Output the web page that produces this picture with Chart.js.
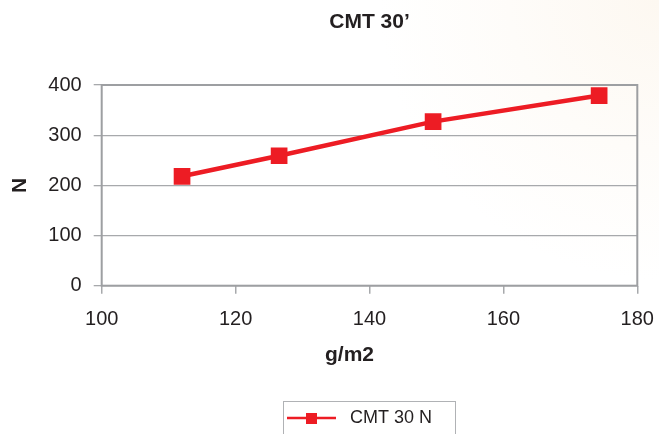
<!DOCTYPE html>
<html>
<head>
<meta charset="utf-8">
<script src="https://cdn.jsdelivr.net/npm/chart.js@4"></script>
<style>
  html, body {
    margin: 0;
    padding: 0;
    width: 659px;
    height: 434px;
    overflow: hidden;
    background: radial-gradient(circle at 100% 0%, #fdf8f1 0px, #fefcf9 150px, #ffffff 280px);
  }
  canvas { display: block; }
</style>
</head>
<body>
<canvas class="grafico" width="659" height="434"></canvas>
<script>
const canvas = document.querySelector('.grafico');

// valores
const gramaje = [112, 126.5, 149.5, 174.3];
const cmt30 = [218, 259, 327, 379];
const xTicks = [100, 120, 140, 160, 180];
const yTicks = [0, 100, 200, 300, 400];

const rojo = '#ed1c24';
const gris = '#a7a9ac';
const texto = '#231f20';
const fuente = '"Liberation Sans", Arial, Helvetica, sans-serif';

// marco del area de trazado + titulo del eje x
const marco = {
    id: 'marco',
    beforeDatasetsDraw(chart) {
        const { ctx, chartArea: a } = chart;
        ctx.save();
        ctx.strokeStyle = '#9d9fa2';
        ctx.lineWidth = 2;
        ctx.strokeRect(a.left, a.top, a.right - a.left, a.bottom - a.top);
        ctx.restore();
    },
    afterDraw(chart) {
        const { ctx, chartArea: a } = chart;
        ctx.save();
        ctx.fillStyle = texto;
        ctx.font = 'bold 21px ' + fuente;
        ctx.textAlign = 'center';
        ctx.textBaseline = 'middle';
        ctx.fillText('g/m2', (a.left + a.right) / 2 - 20, 355);
        ctx.restore();
    }
};

// leyenda con recuadro
const leyenda = {
    id: 'leyenda',
    afterDraw(chart) {
        const { ctx } = chart;
        const ds = chart.data.datasets[0];
        ctx.save();
        ctx.strokeStyle = '#b0b2b5';
        ctx.lineWidth = 1;
        ctx.strokeRect(283.5, 401.5, 172, 40);
        ctx.strokeStyle = ds.borderColor;
        ctx.lineWidth = 2.5;
        ctx.beginPath();
        ctx.moveTo(287, 418);
        ctx.lineTo(336, 418);
        ctx.stroke();
        ctx.fillStyle = ds.borderColor;
        ctx.fillRect(306, 413, 11, 11);
        ctx.fillStyle = texto;
        ctx.font = '18px ' + fuente;
        ctx.textAlign = 'left';
        ctx.textBaseline = 'middle';
        ctx.fillText(ds.label, 350, 418);
        ctx.restore();
    }
};

const config = {
    type: 'line',
    data: {
        datasets: [{
            label: 'CMT 30 N',
            data: gramaje.map((g, i) => ({ x: g, y: cmt30[i] })),
            borderColor: rojo,
            backgroundColor: rojo,
            borderWidth: 4.5,
            tension: 0,
            pointStyle: 'rect',
            pointRadius: 11.8,
            pointHoverRadius: 11.8,
            pointBorderWidth: 0,
            pointBackgroundColor: rojo
        }]
    },
    options: {
        responsive: false,
        animation: false,
        events: [],
        layout: { padding: { left: 0, right: 21.7, top: 0, bottom: 78.3 } },
        plugins: {
            legend: { display: false },
            tooltip: { enabled: false },
            title: {
                display: true,
                fullSize: false,
                text: 'CMT 30\u2019',
                color: texto,
                font: { family: fuente, size: 21, weight: 'bold' },
                padding: { top: 10, bottom: 49.8 }
            }
        },
        scales: {
            x: {
                type: 'linear',
                min: 100,
                max: 180,
                afterBuildTicks: (s) => { s.ticks = xTicks.map(v => ({ value: v })); },
                afterFit: (s) => { s.height = 70; s.paddingLeft = 0; s.paddingRight = 0; },
                grid: { drawOnChartArea: false, color: gris, lineWidth: 1.5, tickLength: 8 },
                border: { display: false },
                ticks: { color: texto, font: { family: fuente, size: 20 }, padding: 14 }
            },
            y: {
                min: 0,
                max: 400,
                afterBuildTicks: (s) => { s.ticks = yTicks.map(v => ({ value: v })); },
                afterFit: (s) => { s.width = 101.7; s.paddingTop = 0; s.paddingBottom = 0; },
                grid: { color: gris, lineWidth: 1.3, tickLength: 8 },
                border: { display: false },
                ticks: { color: texto, font: { family: fuente, size: 20 }, padding: 12 },
                title: {
                    display: true,
                    text: 'N',
                    color: texto,
                    font: { family: fuente, size: 21, weight: 'bold' },
                    padding: { top: 8, bottom: 0 }
                }
            }
        }
    },
    plugins: [marco, leyenda]
};

new Chart(canvas, config);
</script>
</body>
</html>
